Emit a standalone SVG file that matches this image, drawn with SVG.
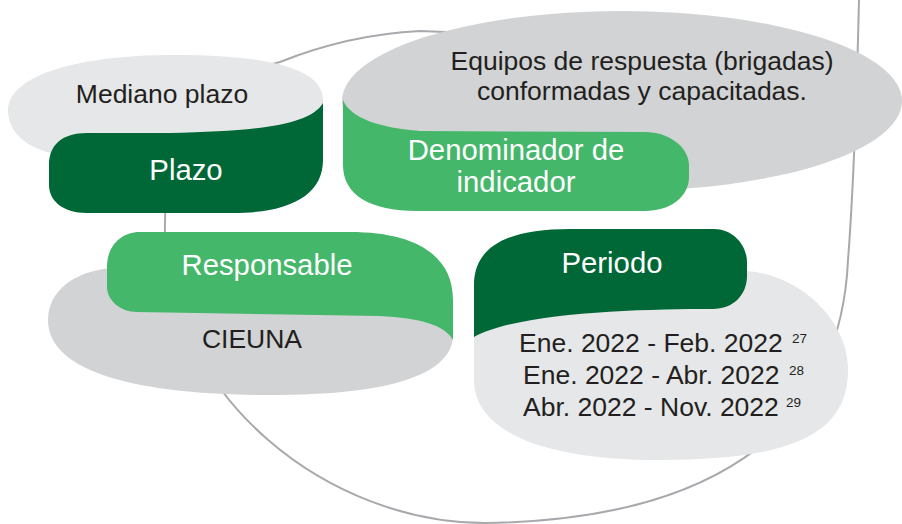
<svg xmlns="http://www.w3.org/2000/svg" width="902" height="524" viewBox="0 0 902 524">
<style>
.lg{fill:#e6e7e8}
.mg{fill:#d1d3d4}
.dg{fill:#006837}
.gg{fill:#45b76a}
.t{font-family:"Liberation Sans",Arial,sans-serif;font-size:26.5px;fill:#231f20}
.h{font-family:"Liberation Sans",Arial,sans-serif;font-size:29.3px;fill:#ffffff;text-anchor:middle}
.c{text-anchor:middle}
.sup{font-size:13.5px}
.loop{fill:none;stroke:#a7a9ac;stroke-width:2}
</style>
<rect width="902" height="524" fill="#ffffff"/>
<g id="connectors">
<path class="loop" d="M859,0 C857,80 855,170 848,260 C840,440 700,520 485,523 C330,523 170,400 165,232 C163,150 200,80 280,62 C315,48 360,34 420,31 L470,33"/>
</g>
<g id="plazo">
<path class="lg" d="M323,100 C323,72 280,55 175,55 C70,55 8,78 8,110 C8,140 40,152 60,155 L200,150 L323,130 Z"/>
<path class="dg" d="M49,165 C49,145 62,133 87,133 L170,133 C260,131 310,125 323,103 L323,160 C323,195 290,213 233,213 L87,213 C62,213 49,200 49,185 Z"/>
<text class="t c" x="162" y="103">Mediano plazo</text>
<text class="h" x="186" y="180">Plazo</text>
</g>
<g id="denominador">
<ellipse class="mg" cx="622" cy="101" rx="280" ry="90"/>
<path class="gg" d="M343,100 C350,118 380,128 420,131 L645,132 C670,132 689,148 689,165 L689,177 C689,197 670,211 645,211 L417,211 C370,211 343,195 343,165 Z"/>
<text class="t c" x="642" y="70">Equipos de respuesta (brigadas)</text>
<text class="t c" x="642" y="100">conformadas y capacitadas.</text>
<text class="h" x="516" y="160">Denominador de</text>
<text class="h" x="516" y="192">indicador</text>
</g>
<g id="responsable">
<path class="mg" d="M453,337 C450,375 390,395 270,395 C130,395 48,370 48,320 C48,290 75,272 110,268 L300,265 L453,320 Z"/>
<path class="gg" d="M107,267 C107,247 120,232 140,232 L350,232 C415,232 453,255 453,300 L453,340 C445,325 420,318 380,316 L137,312 C120,312 107,300 107,287 Z"/>
<text class="h" x="267" y="275">Responsable</text>
<text class="t c" x="252" y="348">CIEUNA</text>
</g>
<g id="periodo">
<path class="lg" d="M747,271 C800,275 848,320 848,370 C848,430 800,460 660,460 C540,460 474,430 474,380 L474,330 Z"/>
<path class="dg" d="M474,337 L474,285 C474,245 510,229 570,229 L714,229 C733,229 747,245 747,262 L747,276 C747,295 733,309 713,309 C640,309 520,312 474,337 Z"/>
<text class="h" x="612" y="273">Periodo</text>
<text class="t"><tspan x="519" y="352">Ene. 2022 - Feb. 2022</tspan><tspan class="sup" x="792" y="343">27</tspan></text>
<text class="t"><tspan x="523" y="384">Ene. 2022 - Abr. 2022</tspan><tspan class="sup" x="789" y="375">28</tspan></text>
<text class="t"><tspan x="523" y="416">Abr. 2022 - Nov. 2022</tspan><tspan class="sup" x="786" y="407">29</tspan></text>
</g>
</svg>
